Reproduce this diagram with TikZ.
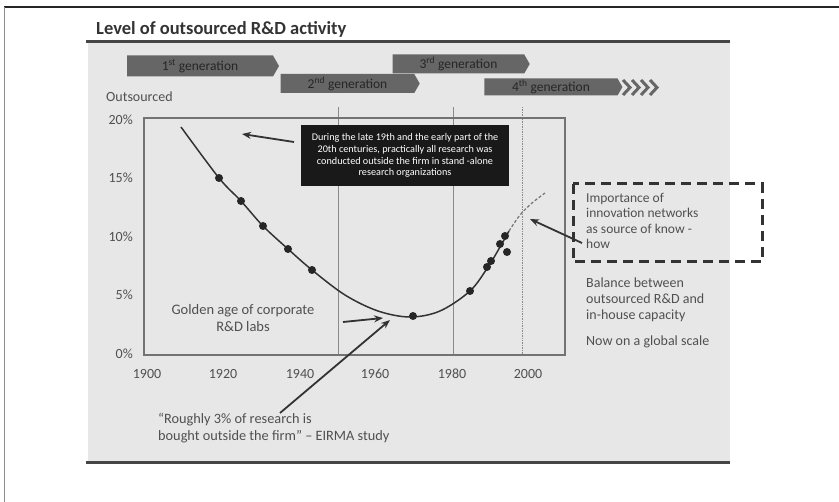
\documentclass[tikz,border=0pt]{standalone}
\usepackage{fontspec}
\setmainfont{Carlito}
\usetikzlibrary{arrows.meta,shapes.symbols}
\definecolor{bg}{HTML}{E7E7E7}
\definecolor{rulec}{HTML}{464646}
\definecolor{txt}{HTML}{505050}
\definecolor{genc}{HTML}{666666}
\definecolor{gridc}{HTML}{8A8A8A}
\begin{document}
\begin{tikzpicture}[x=1pt,y=-1pt,
  genbox/.style={signal, signal to=east, signal pointer angle=120, fill=genc, draw=none,
     inner sep=0pt, text=black!85, font=\fontsize{13.5}{14}\selectfont},
  lbl/.style={text=txt, inner sep=0pt, font=\fontsize{14}{16}\selectfont},
  ylbl/.style={text=txt, inner sep=0pt, anchor=east, font=\fontsize{14}{16}\selectfont},
  xlbl/.style={text=txt, inner sep=0pt, font=\fontsize{14}{16}\selectfont},
  arr/.style={draw=black!80, line width=1.8pt, -{Stealth[length=9pt,width=7pt]}},
  mk/.style={fill=black!85},
  gridl/.style={draw=gridc, line width=0.7pt}]
\useasboundingbox (0,0) rectangle (839,502);
% outer frame
\draw[black!85, line width=1.2pt] (4,7) -- (839,7);
\draw[black!45, line width=1pt] (4,7) -- (4,502);
% background panel
\fill[bg] (88,42) rectangle (730,462);
\draw[rulec, line width=3pt] (86,42) -- (730,42);
\draw[rulec, line width=3pt] (86,463) -- (730,463);
% title
\node[anchor=base west, inner sep=0pt, text=black!80, font=\fontsize{18.5}{20}\selectfont\bfseries] (title) at (96,35) {Level of outsourced R\&D activity};
% generations
\node[genbox, minimum width=152pt, minimum height=21pt] (g1) at (200,66) {1\textsuperscript{st} generation};
\node[genbox, minimum width=139pt, minimum height=19pt] (g2) at (347.5,83.5) {2\textsuperscript{nd} generation};
\node[genbox, minimum width=137pt, minimum height=19pt] (g3) at (458.5,64) {3\textsuperscript{rd} generation};
\node[genbox, minimum width=138pt, minimum height=17pt] (g4) at (551,87) {4\textsuperscript{th} generation};
\foreach \x in {623,632,641,650}
  \draw[genc, line width=3pt, line join=miter] (\x,80) -- (\x+7,87.5) -- (\x,95);
% axis labels
\node[lbl, anchor=west] (outs) at (106,97) {Outsourced};
\node[ylbl] (y20) at (133,120) {20\%};
\node[ylbl] (y15) at (133,178) {15\%};
\node[ylbl] (y10) at (133,237) {10\%};
\node[ylbl] (y5) at (133,295) {5\%};
\node[ylbl] (y0) at (133,354) {0\%};
\node[xlbl] (x1900) at (147,374) {1900};
\node[xlbl] (x1920) at (223,374) {1920};
\node[xlbl] (x1940) at (300,374) {1940};
\node[xlbl] (x1960) at (375,374) {1960};
\node[xlbl] (x1980) at (452,374) {1980};
\node[xlbl] (x2000) at (528,374) {2000};
% grid lines
\draw[gridl] (338,107) -- (338,355);
\draw[gridl] (453,107) -- (453,355);
\draw[gridl, densely dotted] (522,107) -- (522,355);
% plot box
\draw[draw=black!55, line width=1.2pt] (144,118) rectangle (565,355);
% black note box
\node[fill=black!90, text=white, minimum width=208pt, minimum height=61pt, inner sep=0pt, align=center,
      font=\fontsize{10.2}{11.8}\selectfont] (note) at (405,155.5)
  {During the late 19th and the early part of the\\20th centuries, practically all research was\\conducted outside the firm in stand -alone\\research organizations};
% curve
\draw[black!80, line width=1.5pt] plot[smooth, tension=0.55] coordinates
  {(181,127) (219,178) (241,201) (263,226) (288,249) (312,270) (345,295) (378,311) (410,317) (440,311) (470,291) (488,267) (500,247) (509,231)};
\draw[black!55, line width=1.2pt, densely dashed] plot[smooth] coordinates {(509,231) (520,215) (532,203) (545,193)};
% markers
\foreach \p in {(219,178),(241,201),(263,226),(288,249),(312,270),(413,316),(470,291),(487,267),(491,261),(500,244),(505,236),(507,252)}
  \fill[mk] \p circle (4);
% dashed box
\draw[black!80, line width=3pt, dash pattern=on 10pt off 6pt] (573,184) rectangle (762,262);
\node[lbl, anchor=west, align=left, font=\fontsize{13.5}{15.5}\selectfont] (imp) at (586,221) {Importance of\\innovation networks\\as source of know -\\how};
\node[lbl, anchor=west, align=left] (bal) at (586,300) {Balance between\\outsourced R\&D and\\in-house capacity};
\node[lbl, anchor=west] (glob) at (586,342) {Now on a global scale};
\node[lbl, align=center, font=\fontsize{14.5}{17}\selectfont] (golden) at (243,318) {Golden age of corporate\\R\&D labs};
\node[lbl, anchor=west, align=left, font=\fontsize{14.3}{17}\selectfont] (quote) at (158,428) {``Roughly 3\% of research is\\bought outside the firm'' -- EIRMA study};
% arrows
\coordinate (a1s) at (294,142); \coordinate (a1e) at (242,134);
\coordinate (a2s) at (343,322); \coordinate (a2e) at (383,318);
\coordinate (a3s) at (280,413); \coordinate (a3e) at (390,320);
\coordinate (a4s) at (582,243); \coordinate (a4e) at (530,219);
\draw[arr] (a1s) -- (a1e);
\draw[arr] (a2s) -- (a2e);
\draw[arr] (a3s) -- (a3e);
\draw[arr] (a4s) -- (a4e);
\end{tikzpicture}
\end{document}
